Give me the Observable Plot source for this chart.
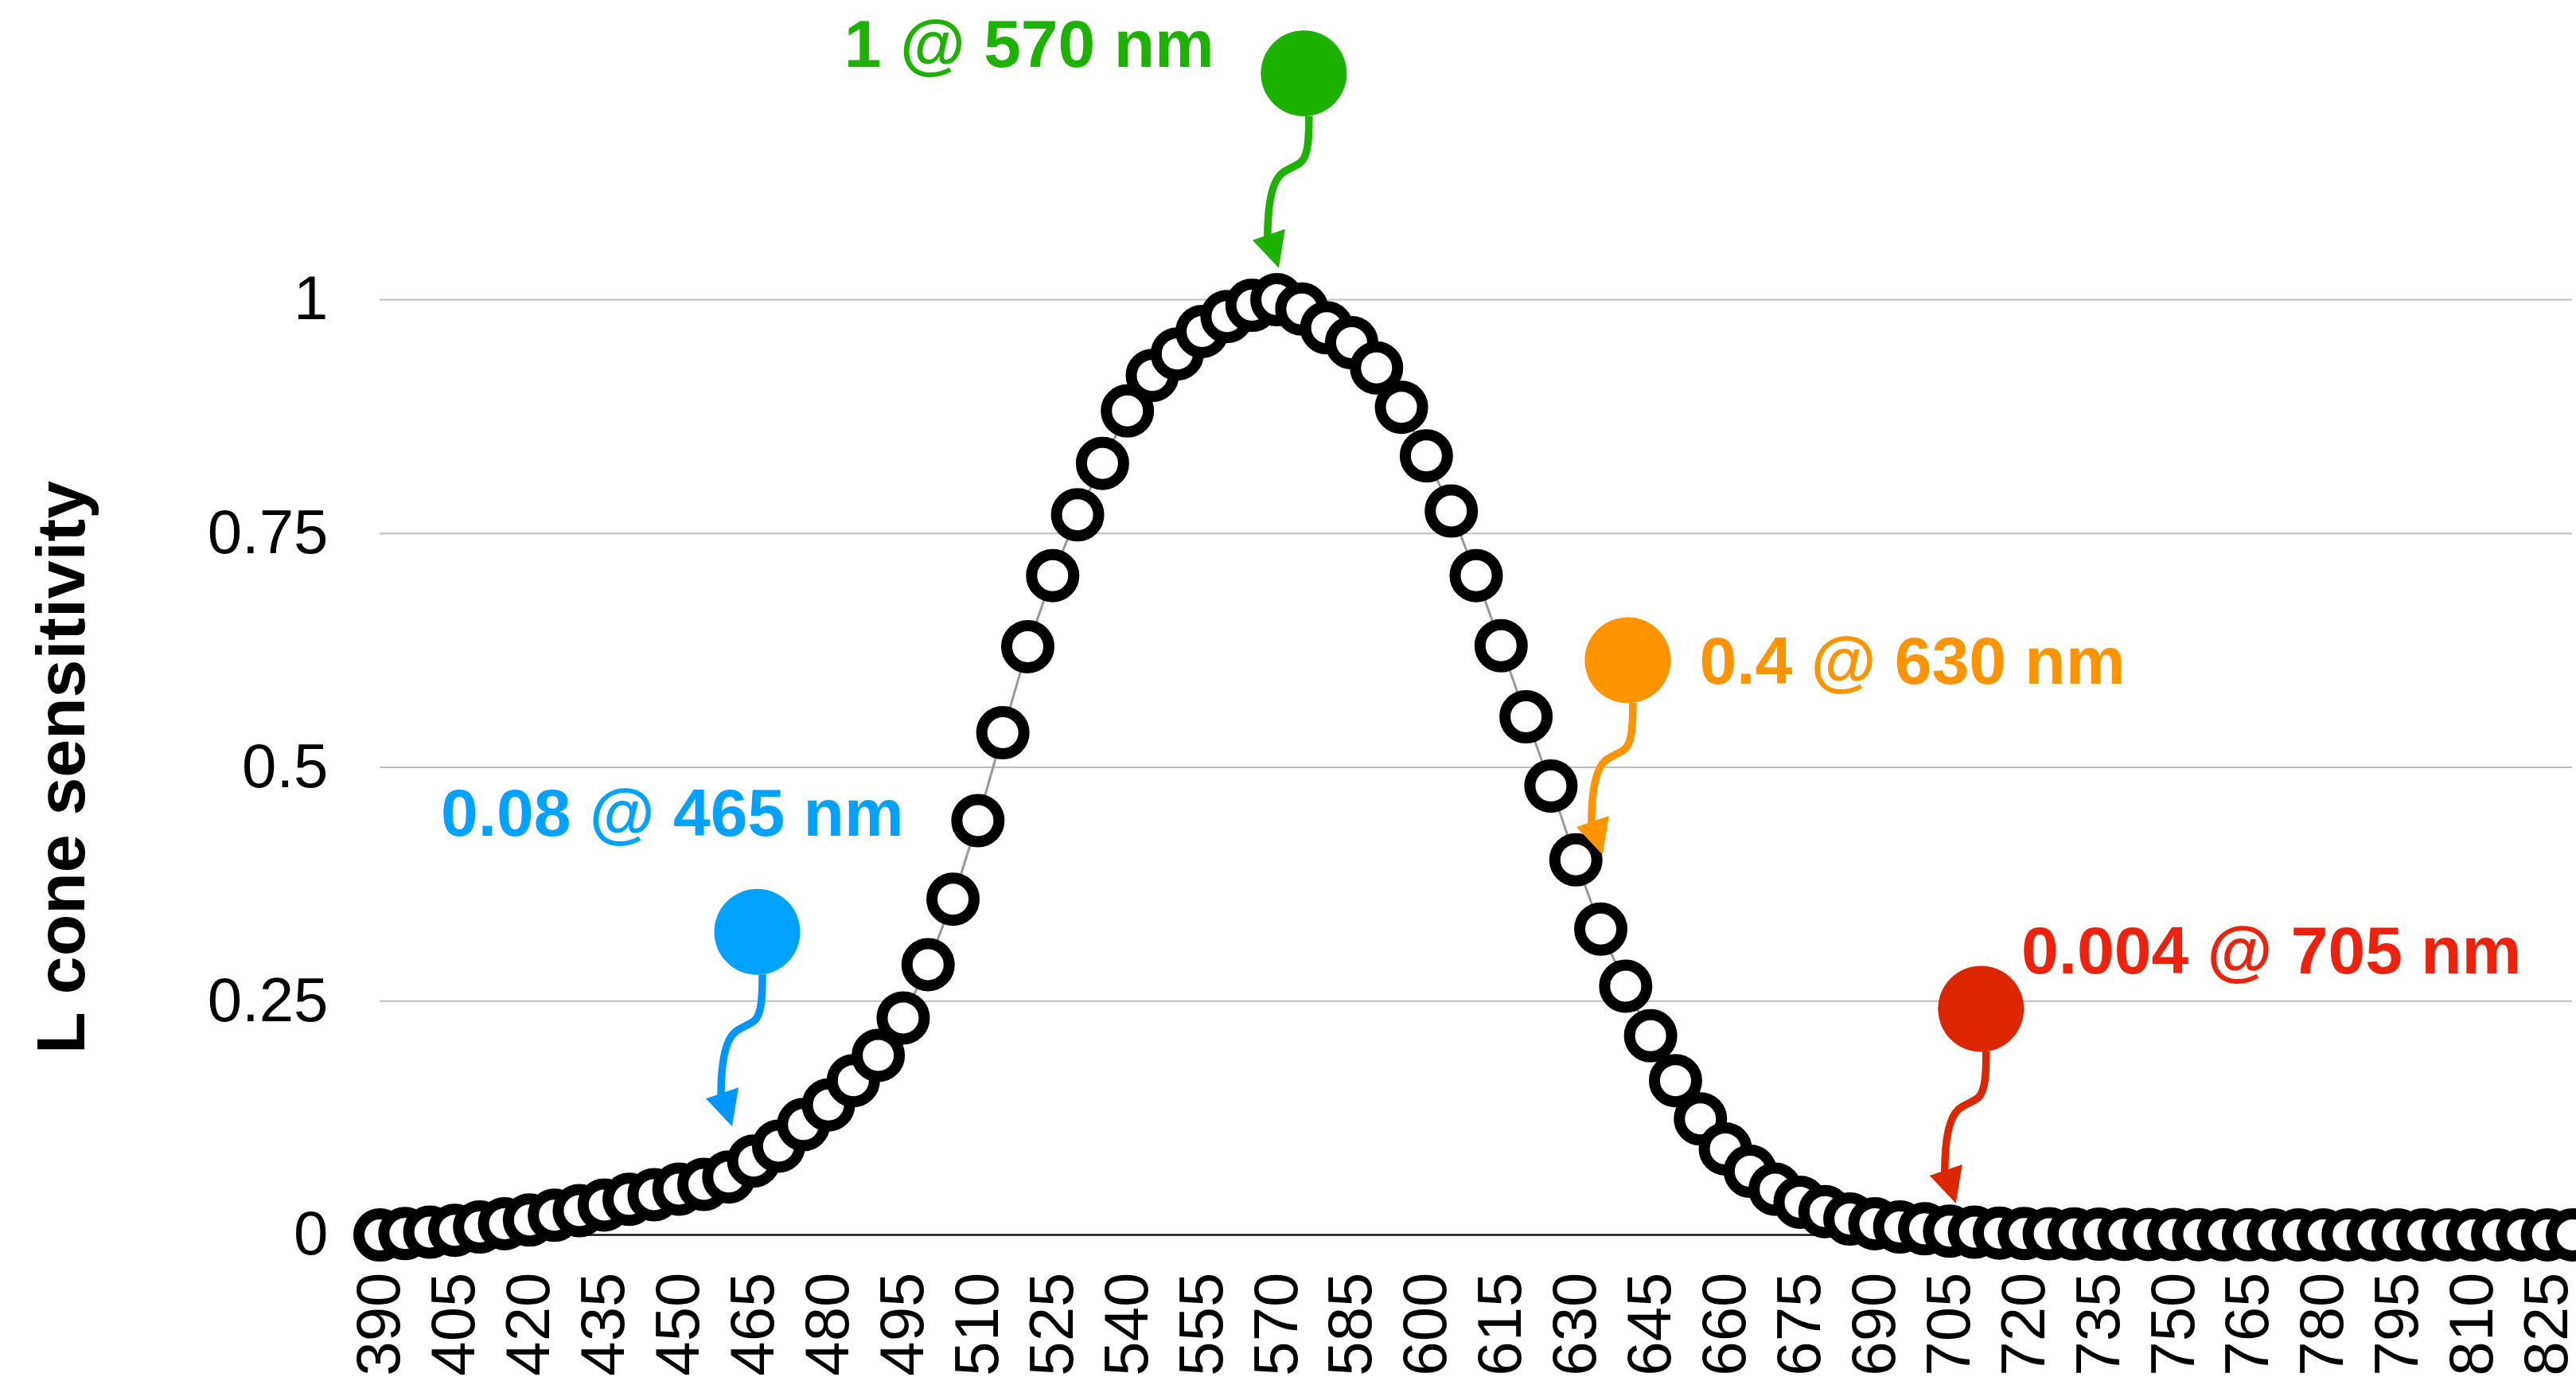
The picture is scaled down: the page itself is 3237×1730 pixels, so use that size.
<!DOCTYPE html>
<html>
<head>
<meta charset="utf-8">
<script src="https://cdn.jsdelivr.net/npm/d3@7"></script>
<script src="https://cdn.jsdelivr.net/npm/@observablehq/plot@0.6"></script>
<style>
html, body { margin: 0; padding: 0; background: #fff; overflow: hidden; }
#chart svg { display: block; }
</style>
</head>
<body>
<div id="chart"></div>
<script>
// ---- data ----
const wavelengths = [
  390, 395, 400, 405, 410, 415, 420, 425, 430, 435, 440, 445, 450, 455, 460, 465, 470, 475, 480, 485,
  490, 495, 500, 505, 510, 515, 520, 525, 530, 535, 540, 545, 550, 555, 560, 565, 570, 575, 580, 585,
  590, 595, 600, 605, 610, 615, 620, 625, 630, 635, 640, 645, 650, 655, 660, 665, 670, 675, 680, 685,
  690, 695, 700, 705, 710, 715, 720, 725, 730, 735, 740, 745, 750, 755, 760, 765, 770, 775, 780, 785,
  790, 795, 800, 805, 810, 815, 820, 825, 830
];
const sensitivity = [
  0.000, 0.0015, 0.003, 0.005, 0.0085, 0.012, 0.016, 0.021, 0.026, 0.032, 0.038, 0.043, 0.049, 0.054, 0.062, 0.079, 0.095, 0.118, 0.139, 0.165,
  0.192, 0.232, 0.289, 0.359, 0.443, 0.537, 0.629, 0.705, 0.770, 0.825, 0.881, 0.919, 0.942, 0.966, 0.982, 0.994, 1.000, 0.990, 0.970, 0.954,
  0.927, 0.885, 0.833, 0.774, 0.705, 0.630, 0.554, 0.480, 0.401, 0.327, 0.266, 0.213, 0.165, 0.124, 0.092, 0.068, 0.049, 0.035, 0.025, 0.017,
  0.012, 0.0085, 0.0065, 0.004, 0.003, 0.002, 0.0015, 0.0012, 0.001, 0.0008, 0.0006, 0.0005, 0.0004, 0.0003, 0.0002, 0.0002, 0.0001, 0.0001, 0.0001, 0.0001,
  0.0001, 0.0001, 0.0001, 0.0001, 0.0001, 0.0001, 0.0001, 0.0001, 0.0001
];
const xTicks = [390, 405, 420, 435, 450, 465, 480, 495, 510, 525, 540, 555, 570, 585, 600, 615, 630, 645, 660, 675, 690, 705, 720, 735, 750, 765, 780, 795, 810, 825];
const yTicks = [0, 0.25, 0.5, 0.75, 1];
const yTitle = "L cone sensitivity";

// annotations
const annoLabels   = ["1 @ 570 nm", "0.08 @ 465 nm", "0.4 @ 630 nm", "0.004 @ 705 nm"];
const annoDotNm    = [575.4, 465.7, 640.4, 711.3];
const annoDotVal   = [1.242, 0.324, 0.6145, 0.2417];
const annoLabelNm  = [557.4, 495.1, 654.8, 719.4];
const annoLabelVal = [1.249, 0.427, 0.589, 0.280];
const annoAnchor   = ["end", "end", "start", "start"];
const annoDotColor   = ["#1DB100", "#00A2FF", "#FF9300", "#DC2600"];
const annoTextColor  = ["#1DB100", "#00A2FF", "#FF9300", "#EE220C"];
const annoArrowColor = ["#1DB100", "#0096FF", "#FF9300", "#DC2600"];

// ---- build ----
const points = wavelengths.map((w, i) => ({w, s: sensitivity[i]}));
const annotations = annoLabels.map((label, i) => ({
  label, dotNm: annoDotNm[i], dotVal: annoDotVal[i],
  labelNm: annoLabelNm[i], labelVal: annoLabelVal[i], anchor: annoAnchor[i],
  dotColor: annoDotColor[i], textColor: annoTextColor[i], arrowColor: annoArrowColor[i]
}));

// curly arrow shape (pixel offsets from the annotation dot centre)
const shaftPath = "M7,54 C7,82 6,104 -3,112 C-10,118 -22,121 -28,127 C-40,138 -45,165 -45,206";
const headPath = "M-31,245 L-64,210 L-23,196 Z";

function arrowMark(index, scales) {
  const ns = "http://www.w3.org/2000/svg";
  const g = document.createElementNS(ns, "g");
  annotations.forEach(d => {
    const cx = scales.x(d.dotNm), cy = scales.y(d.dotVal);
    const a = document.createElementNS(ns, "g");
    a.setAttribute("transform", `translate(${cx},${cy})`);
    const p = document.createElementNS(ns, "path");
    p.setAttribute("d", shaftPath);
    p.setAttribute("fill", "none");
    p.setAttribute("stroke", d.arrowColor);
    p.setAttribute("stroke-width", 9.5);
    p.setAttribute("stroke-linecap", "butt");
    const h = document.createElementNS(ns, "path");
    h.setAttribute("d", headPath);
    h.setAttribute("fill", d.arrowColor);
    a.appendChild(p);
    a.appendChild(h);
    g.appendChild(a);
  });
  return g;
}

const chart = Plot.plot({
  width: 3237,
  height: 1730,
  marginLeft: 477,
  marginRight: 5,
  marginTop: 376,
  marginBottom: 179,
  style: {fontFamily: "'Liberation Sans', Arial, Helvetica, sans-serif", fontSize: "78px", background: "#fff", color: "#000"},
  x: {domain: [390, 830], ticks: xTicks, tickFormat: d => String(d), tickRotate: -90, tickSize: 0, tickPadding: 47, label: null},
  y: {domain: [0, 1], ticks: yTicks, tickFormat: d => String(d), tickSize: 0, tickPadding: 65, label: null},
  marks: [
    Plot.ruleY(yTicks.filter(d => d > 0), {stroke: "#bdbdbd", strokeWidth: 2.2}),
    Plot.ruleY([0], {stroke: "#111", strokeWidth: 2.5}),
    Plot.line(points, {x: "w", y: "s", stroke: "#999", strokeWidth: 3}),
    Plot.dot(points, {x: "w", y: "s", r: 26.5, stroke: "#000", strokeWidth: 14, fill: "#fff"}),
    Plot.dot(annotations, {x: "dotNm", y: "dotVal", r: 54, fill: d => d.dotColor, stroke: null}),
    arrowMark,
    Plot.text(annotations.filter(d => d.anchor === "end"), {x: "labelNm", y: "labelVal", text: "label", fill: d => d.textColor, textAnchor: "end", lineAnchor: "bottom", fontSize: 84, fontWeight: "bold"}),
    Plot.text(annotations.filter(d => d.anchor === "start"), {x: "labelNm", y: "labelVal", text: "label", fill: d => d.textColor, textAnchor: "start", lineAnchor: "bottom", fontSize: 84, fontWeight: "bold"}),
    Plot.text([yTitle], {text: d => d, frameAnchor: "left", textAnchor: "middle", rotate: -90, dx: -372, lineAnchor: "bottom", fontSize: 86, fontWeight: "bold", fill: "#000"})
  ]
});
document.getElementById("chart").appendChild(chart);
</script>
</body>
</html>
